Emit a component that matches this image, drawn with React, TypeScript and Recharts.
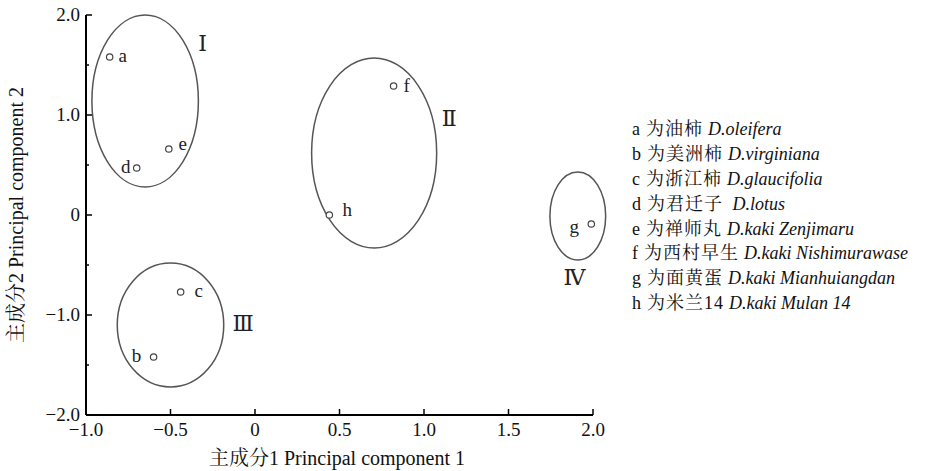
import React from 'react';
import { ScatterChart, Scatter, XAxis, YAxis, ReferenceArea } from 'recharts';

// Samples (principal component scores)
const sampleNames = ['a', 'b', 'c', 'd', 'e', 'f', 'g', 'h'];
const pc1Values = [-0.86, -0.6, -0.44, -0.7, -0.51, 0.82, 1.99, 0.44];
const pc2Values = [1.58, -1.42, -0.77, 0.47, 0.66, 1.29, -0.09, 0.0];

// Cluster ellipses
const clusterNames = ['Ⅰ', 'Ⅱ', 'Ⅲ', 'Ⅳ'];
const clusterCenterX = [-0.65, 0.705, -0.5, 1.91];
const clusterCenterY = [1.14, 0.62, -1.1, -0.01];
const clusterRadiusX = [0.315, 0.37, 0.315, 0.165];
const clusterRadiusY = [0.86, 0.95, 0.62, 0.44];
const clusterLabelX = [-0.31, 1.15, -0.07, 1.89];
const clusterLabelY = [1.72, 0.97, -1.08, -0.62];

// Axis ticks
const xTicks = [-1, -0.5, 0, 0.5, 1, 1.5, 2];
const yTicks = [-2, -1.5, -1, -0.5, 0, 0.5, 1, 1.5, 2];

// Legend
const legendCodes = ['a', 'b', 'c', 'd', 'e', 'f', 'g', 'h'];
const legendChinese = ['为油柿', '为美洲柿', '为浙江柿', '为君迁子', '为禅师丸', '为西村早生', '为面黄蛋', '为米兰14'];
const legendLatin = [
  'D.oleifera',
  'D.virginiana',
  'D.glaucifolia',
  ' D.lotus',
  'D.kaki Zenjimaru',
  'D.kaki Nishimurawase',
  'D.kaki Mianhuiangdan',
  'D.kaki Mulan 14',
];

// label placement (pixels relative to point)
const labelPlacement: Record<string, [number, number]> = {
  a: [13, 0],
  b: [-17, 0],
  c: [18, 0],
  d: [-11, 0],
  e: [14, -4],
  f: [13, 1],
  g: [-17, 4],
  h: [18, -4],
};

const FONT = "'Liberation Serif', 'Times New Roman', 'Noto Serif CJK SC', 'Noto Sans CJK SC', serif";

const points = sampleNames.map((n, i) => ({ name: n, x: pc1Values[i], y: pc2Values[i] }));
const clusterLabels = clusterNames.map((n, i) => ({ name: n, x: clusterLabelX[i], y: clusterLabelY[i] }));

const fmt = (v: number) => {
  if (v === 0) return '0';
  const s = Math.abs(v).toFixed(1);
  return v < 0 ? '\u2212' + s : s;
};

const XTick = (props: any) => {
  const { x, y, payload } = props;
  return (
    <g>
      <line x1={x} y1={y} x2={x} y2={y - 6} stroke="#000" strokeWidth={1.5} />
      <text x={x} y={y + 21} textAnchor="middle" fontFamily={FONT} fontSize={19} fill="#111">
        {fmt(payload.value)}
      </text>
    </g>
  );
};

const YTick = (props: any) => {
  const { x, y, payload } = props;
  const v = payload.value as number;
  const major = Number.isInteger(v);
  return (
    <g>
      <line x1={x} y1={y} x2={x + (major ? 6 : 3)} y2={y} stroke="#000" strokeWidth={1.5} />
      {major && (
        <text x={x - 6} y={y + 6} textAnchor="end" fontFamily={FONT} fontSize={19} fill="#111">
          {fmt(v)}
        </text>
      )}
    </g>
  );
};

const PointShape = (props: any) => {
  const { cx, cy, payload } = props;
  const [dx, dy] = labelPlacement[payload.name] || [12, 0];
  return (
    <g>
      <circle cx={cx} cy={cy} r={3.2} fill="#fff" stroke="#444" strokeWidth={1.2} />
      <text
        x={cx + dx}
        y={cy + dy + 5}
        textAnchor="middle"
        fontFamily={FONT}
        fontSize={19}
        fill="#222"
      >
        {payload.name}
      </text>
    </g>
  );
};

const ClusterLabelShape = (props: any) => {
  const { cx, cy, payload } = props;
  return (
    <text
      x={cx}
      y={cy + 8}
      textAnchor="middle"
      fontFamily="'DejaVu Serif', 'Liberation Serif', serif"
      fontSize={22}
      fill="#222"
    >
      {payload.name}
    </text>
  );
};

const EllipseShape = (props: any) => {
  const { x, y, width, height } = props;
  return (
    <ellipse
      cx={x + width / 2}
      cy={y + height / 2}
      rx={Math.abs(width / 2)}
      ry={Math.abs(height / 2)}
      fill="none"
      stroke="#555"
      strokeWidth={1.5}
    />
  );
};

export default function App() {
  return (
    <div style={{ position: 'absolute', left: 0, top: 0, width: 925, height: 471, overflow: 'hidden', background: '#fff' }}>
      <ScatterChart width={925} height={471} margin={{ top: 15, right: 332, bottom: 26, left: 26 }}>
        <XAxis
          type="number"
          dataKey="x"
          domain={[-1, 2]}
          ticks={xTicks}
          interval={0}
          tickSize={0}
          tickMargin={0}
          tickLine={false}
          height={30}
          axisLine={{ stroke: '#000', strokeWidth: 2 }}
          tick={<XTick />}
        />
        <YAxis
          type="number"
          dataKey="y"
          domain={[-2, 2]}
          ticks={yTicks}
          interval={0}
          tickSize={0}
          tickMargin={0}
          tickLine={false}
          width={60}
          axisLine={{ stroke: '#000', strokeWidth: 2 }}
          tick={<YTick />}
        />
        {clusterNames.map((n, i) => (
          <ReferenceArea
            key={n}
            x1={clusterCenterX[i] - clusterRadiusX[i]}
            x2={clusterCenterX[i] + clusterRadiusX[i]}
            y1={clusterCenterY[i] - clusterRadiusY[i]}
            y2={clusterCenterY[i] + clusterRadiusY[i]}
            ifOverflow="visible"
            shape={<EllipseShape />}
          />
        ))}
        <Scatter data={points} shape={<PointShape />} isAnimationActive={false} />
        <Scatter data={clusterLabels} shape={<ClusterLabelShape />} isAnimationActive={false} />
        <text x={337} y={465} textAnchor="middle" fontFamily={FONT} fontSize={20} fill="#111">
          主成分1 Principal component 1
        </text>
        <text
          x={23}
          y={215}
          textAnchor="middle"
          fontFamily={FONT}
          fontSize={20}
          fill="#111"
          transform="rotate(-90 23 215)"
        >
          主成分2 Principal component 2
        </text>
      </ScatterChart>
      <div
        style={{
          position: 'absolute',
          left: 632,
          top: 117,
          fontFamily: FONT,
          fontSize: 18,
          color: '#111',
          whiteSpace: 'nowrap',
        }}
      >
        {legendCodes.map((c, i) => (
          <div key={c} style={{ height: 24.9, lineHeight: '24.9px', overflow: 'visible' }}>
            <span style={{ marginRight: 6 }}>{c}</span>
            <span style={{ letterSpacing: 1 }}>{legendChinese[i]}</span>
            <i style={{ fontSize: 18, marginLeft: 5, whiteSpace: 'pre' }}>{legendLatin[i]}</i>
          </div>
        ))}
      </div>
    </div>
  );
}
